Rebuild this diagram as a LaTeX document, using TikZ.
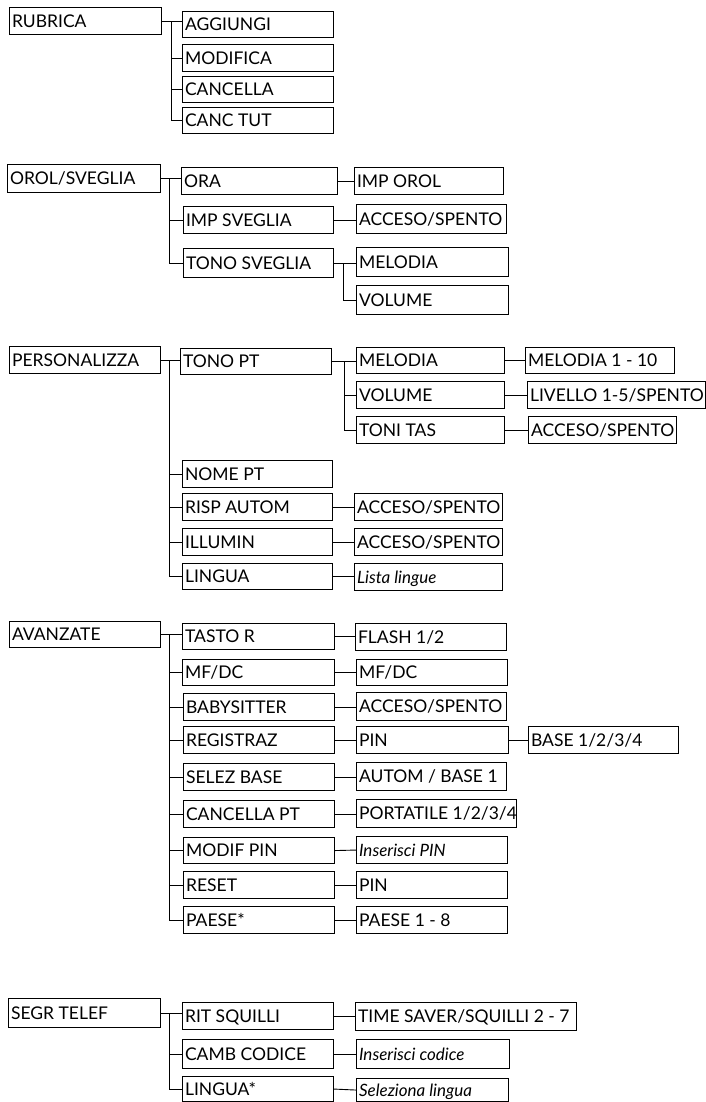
\documentclass[tikz,border=0pt]{standalone}
\usepackage{fontspec}
\setmainfont{Lato}
\tikzset{
  box/.style={draw, line width=1.1pt, anchor=north west, inner xsep=2.5pt, inner ysep=0pt,
    text height=12.4pt, text depth=0pt, font=\fontsize{17.5}{18}\selectfont},
  itbox/.style={box, font=\fontsize{17}{18}\selectfont\itshape},
  conn/.style={draw, line width=0.9pt}
}
% name, x, y, w, h, text
\newcommand\mbx[6]{\node[box, minimum height=#5pt] (#1) at (#2,#3) {\makebox[\dimexpr #4pt-5pt\relax][l]{#6}};}
\newcommand\mitbx[6]{\node[itbox, minimum height=#5pt] (#1) at (#2,#3) {\makebox[\dimexpr #4pt-5pt\relax][l]{#6}};}
\begin{document}
\begin{tikzpicture}[x=1pt,y=-1pt]
\useasboundingbox (0,0) rectangle (706,1102);
% ---------- RUBRICA
\mbx{rub}{9}{7}{152}{27}{RUBRICA}
\mbx{agg}{182}{11}{151}{26}{AGGIUNGI}
\mbx{mod}{182}{44}{151}{27}{MODIFICA}
\mbx{can}{182}{76}{151}{26}{CANCELLA}
\mbx{cant}{182}{107}{151}{26}{CANC TUT}
\coordinate (v1) at (171,0);
\draw[conn] (rub.east) -- (rub.east -| agg.west);
\draw[conn] (rub.east -| v1) -- (v1 |- cant.west) -- (cant.west);
\draw[conn] (v1 |- mod.west) -- (mod.west);
\draw[conn] (v1 |- can.west) -- (can.west);
% ---------- OROL/SVEGLIA
\mbx{oro}{7}{164}{153}{28}{OROL/SVEGLIA}
\mbx{ora}{181}{167}{156}{27}{ORA}
\mbx{impo}{354}{167}{149}{27}{IMP OROL}
\mbx{imps}{183}{206}{150}{27}{IMP SVEGLIA}
\mbx{acc1}{356}{204}{150}{29}{ACCESO/SPENTO}
\mbx{tons}{183}{248}{150}{29}{TONO SVEGLIA}
\mbx{mel1}{356}{247}{152}{29}{MELODIA}
\mbx{vol1}{356}{285}{152}{29}{VOLUME}
\coordinate (v2) at (169,0);
\coordinate (v2b) at (343,0);
\draw[conn] (oro.east) -- (oro.east -| ora.west);
\draw[conn] (oro.east -| v2) -- (v2 |- tons.west) -- (tons.west);
\draw[conn] (v2 |- imps.west) -- (imps.west);
\draw[conn] (ora.east) -- (ora.east -| impo.west);
\draw[conn] (imps.east) -- (imps.east -| acc1.west);
\draw[conn] (tons.east) -- (tons.east -| mel1.west);
\draw[conn] (tons.east -| v2b) -- (v2b |- vol1.west) -- (vol1.west);
% ---------- PERSONALIZZA
\mbx{per}{9}{346}{151}{27}{PERSONALIZZA}
\mbx{tonpt}{180}{348}{151}{26}{TONO PT}
\mbx{mel2}{356}{347}{148}{26}{MELODIA}
\mbx{mel10}{525}{347}{149}{26}{MELODIA 1 - 10}
\mbx{vol2}{356}{381}{148}{27}{VOLUME}
\mbx{liv}{527}{381}{178}{27}{LIVELLO 1-5/SPENTO}
\mbx{tonit}{356}{416}{148}{27}{TONI TAS}
\mbx{acc2}{528}{416}{148}{27}{ACCESO/SPENTO}
\mbx{nome}{182}{460}{150}{27}{NOME PT}
\mbx{risp}{182}{493}{150}{27}{RISP AUTOM}
\mbx{acc3}{354}{493}{148}{27}{ACCESO/SPENTO}
\mbx{ill}{182}{528}{150}{27}{ILLUMIN}
\mbx{acc4}{354}{528}{148}{27}{ACCESO/SPENTO}
\mbx{ling}{182}{563}{150}{26}{LINGUA}
\mitbx{lista}{354}{563}{148}{27}{Lista lingue}
\coordinate (v3) at (169,0);
\coordinate (v3b) at (344,0);
\draw[conn] (per.east) -- (per.east -| tonpt.west);
\draw[conn] (per.east -| v3) -- (v3 |- ling.west) -- (ling.west);
\draw[conn] (v3 |- nome.west) -- (nome.west);
\draw[conn] (v3 |- risp.west) -- (risp.west);
\draw[conn] (v3 |- ill.west) -- (ill.west);
\draw[conn] (tonpt.east) -- (tonpt.east -| mel2.west);
\draw[conn] (tonpt.east -| v3b) -- (v3b |- tonit.west) -- (tonit.west);
\draw[conn] (v3b |- vol2.west) -- (vol2.west);
\draw[conn] (mel2.east) -- (mel2.east -| mel10.west);
\draw[conn] (vol2.east) -- (vol2.east -| liv.west);
\draw[conn] (tonit.east) -- (tonit.east -| acc2.west);
\draw[conn] (risp.east) -- (risp.east -| acc3.west);
\draw[conn] (ill.east) -- (ill.east -| acc4.west);
\draw[conn] (ling.east) -- (ling.east -| lista.west);
% ---------- AVANZATE
\mbx{avz}{9}{621}{151}{26}{AVANZATE}
\mbx{tasto}{182}{623}{152}{26}{TASTO R}
\mbx{flash}{355}{623}{151}{27}{FLASH 1/2}
\mbx{mfa}{182}{659}{152}{26}{MF/DC}
\mbx{mfb}{356}{659}{151}{26}{MF/DC}
\mbx{baby}{183}{693}{151}{27}{BABYSITTER}
\mbx{acc5}{356}{692}{150}{28}{ACCESO/SPENTO}
\mbx{reg}{183}{726}{151}{27}{REGISTRAZ}
\mbx{pin1}{356}{726}{152}{27}{PIN}
\mbx{base}{528}{726}{150}{27}{BASE 1/2/3/4}
\mbx{sel}{183}{763}{151}{27}{SELEZ BASE}
\mbx{autom}{356}{762}{150}{28}{AUTOM / BASE 1}
\mbx{canpt}{183}{800}{151}{27}{CANCELLA PT}
\mbx{port}{356}{799}{160}{28}{PORTATILE 1/2/3/4}
\mbx{modp}{183}{837}{151}{26}{MODIF PIN}
\mitbx{insp}{356}{836}{151}{27}{Inserisci PIN}
\mbx{reset}{183}{871}{151}{27}{RESET}
\mbx{pin2}{356}{871}{151}{27}{PIN}
\mbx{paese}{183}{906}{151}{27}{PAESE*}
\mbx{paese8}{356}{906}{151}{27}{PAESE 1 - 8}
\coordinate (v4) at (169,0);
\draw[conn] (avz.east) -- (avz.east -| tasto.west);
\draw[conn] (avz.east -| v4) -- (v4 |- paese.west) -- (paese.west);
\foreach \n in {mfa,baby,reg,sel,canpt,modp,reset}
  \draw[conn] (v4 |- \n.west) -- (\n.west);
\draw[conn] (tasto.east) -- (tasto.east -| flash.west);
\draw[conn] (mfa.east) -- (mfa.east -| mfb.west);
\draw[conn] (baby.east) -- (baby.east -| acc5.west);
\draw[conn] (reg.east) -- (reg.east -| pin1.west);
\draw[conn] (pin1.east) -- (pin1.east -| base.west);
\draw[conn] (sel.east) -- (sel.east -| autom.west);
\draw[conn] (canpt.east) -- (canpt.east -| port.west);
\draw[conn] (modp.east) -- (insp.west);
\draw[conn] (reset.east) -- (reset.east -| pin2.west);
\draw[conn] (paese.east) -- (paese.east -| paese8.west);
% ---------- SEGR TELEF
\mbx{segr}{8}{998}{152}{29}{SEGR TELEF}
\mbx{rit}{182}{1002}{151}{27}{RIT SQUILLI}
\mbx{time}{355}{1002}{221}{28}{TIME SAVER/SQUILLI 2 - 7}
\mbx{camb}{182}{1039}{151}{29}{CAMB CODICE}
\mitbx{insc}{356}{1039}{153}{29}{Inserisci codice}
\mbx{ling2}{182}{1076}{151}{25}{LINGUA*}
\mitbx{selz}{356}{1078}{152}{23}{Seleziona lingua}
\coordinate (v5) at (169,0);
\draw[conn] (segr.east) -- (segr.east -| rit.west);
\draw[conn] (segr.east -| v5) -- (v5 |- ling2.west) -- (ling2.west);
\draw[conn] (v5 |- camb.west) -- (camb.west);
\draw[conn] (rit.east) -- (rit.east -| time.west);
\draw[conn] (camb.east) -- (camb.east -| insc.west);
\draw[conn] (ling2.east) -- (selz.west);
\end{tikzpicture}
\end{document}
